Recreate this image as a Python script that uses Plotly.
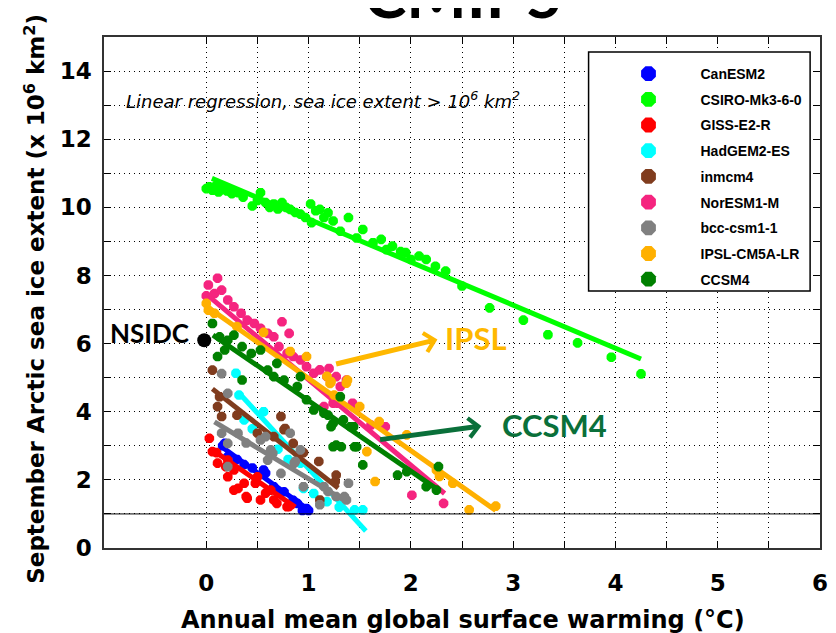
import plotly.graph_objects as go

# ---------------- data ----------------
models = ["CanESM2", "CSIRO-Mk3-6-0", "GISS-E2-R", "HadGEM2-ES", "inmcm4",
          "NorESM1-M", "bcc-csm1-1", "IPSL-CM5A-LR", "CCSM4"]
colors = ["#0000FF", "#00FF00", "#FF0000", "#00FFFF", "#803C1E",
          "#F5247F", "#808080", "#FFB000", "#008000"]

canesm2_x = [0.16, 0.18, 0.21, 0.3, 0.37, 0.45, 0.56, 0.58, 0.66, 0.71, 0.76, 0.85, 0.89, 0.94, 0.98, 1.0]
canesm2_y = [3.0, 3.07, 2.68, 2.6, 2.45, 2.35, 2.29, 2.2, 1.8, 1.61, 1.65, 1.4, 1.31, 1.1, 1.16, 1.1]

csiro_x = [0.0, 0.03, 0.06, 0.09, 0.12, 0.15, 0.2, 0.25, 0.31, 0.36, 0.45, 0.5, 0.53, 0.58,
           0.62, 0.66, 0.7, 0.74, 0.78, 0.82, 0.87, 0.92, 0.97, 1.02, 1.03, 1.07, 1.11, 1.15,
           1.19, 1.24, 1.31, 1.39, 1.47, 1.53, 1.63, 1.71, 1.76, 1.82, 1.9, 1.95, 2.0, 2.08,
           2.15, 2.24, 2.34, 2.5, 2.77, 3.1, 3.34, 3.63, 3.96, 4.25]
csiro_y = [10.55, 10.6, 10.5, 10.62, 10.45, 10.55, 10.48, 10.4, 10.43, 10.3, 10.04, 10.2, 10.43, 10.14,
           10.0, 10.1, 9.95, 10.14, 10.0, 9.94, 9.85, 9.8, 9.7, 10.1, 9.55, 9.9, 9.94, 9.7,
           9.84, 9.6, 9.3, 9.7, 9.1, 9.35, 8.96, 9.06, 8.76, 8.86, 8.7, 8.67, 8.47, 8.57,
           8.47, 8.27, 8.13, 7.69, 7.05, 6.69, 6.26, 6.02, 5.6, 5.11]

giss_x = [0.03, 0.06, 0.1, 0.11, 0.19, 0.21, 0.21, 0.27, 0.27, 0.31, 0.37, 0.39, 0.4, 0.48,
          0.5, 0.53, 0.58, 0.63, 0.66, 0.69, 0.79, 0.81]
giss_y = [3.22, 2.83, 2.8, 2.49, 2.39, 2.58, 2.09, 2.29, 1.7, 1.75, 1.9, 1.51, 1.46, 1.9,
          2.09, 1.41, 1.61, 1.7, 1.41, 1.31, 1.21, 1.22]

hadgem_x = [0.29, 0.32, 0.37, 0.45, 0.56, 0.7, 0.8, 0.92, 0.95, 1.05, 1.18, 1.3, 1.45, 1.53]
hadgem_y = [5.13, 4.49, 3.76, 3.5, 4.0, 2.9, 2.6, 2.49, 1.75, 1.6, 1.36, 1.2, 1.12, 1.12]

inmcm4_x = [0.06, 0.11, 0.13, 0.15, 0.3, 0.5, 0.66, 0.73, 0.76, 0.77, 0.85, 0.95, 1.1, 1.11, 1.26, 1.27]
inmcm4_y = [5.22, 4.15, 4.44, 3.86, 3.9, 3.37, 3.27, 3.86, 3.47, 3.51, 3.07, 2.8, 2.54, 1.41, 1.95, 2.14]

noresm_x = [0.0, 0.02, 0.08, 0.11, 0.15, 0.21, 0.27, 0.34, 0.4, 0.47, 0.53, 0.6, 0.66, 0.71,
            0.74, 0.79, 0.81, 0.85, 0.92, 0.98, 1.05, 1.11, 1.15, 1.18, 1.2, 1.24, 1.27,
            1.28, 1.31, 1.37, 1.43, 1.44, 1.61, 1.75, 2.01, 2.32]
noresm_y = [7.4, 7.72, 7.47, 7.92, 7.57, 7.28, 7.08, 6.89, 6.69, 6.59, 6.45, 6.3, 6.2, 5.91,
            6.64, 5.71, 6.3, 5.62, 5.52, 5.32, 5.13, 5.23, 4.15, 5.03, 5.27, 4.25, 5.03,
            4.25, 4.74, 4.93, 4.25, 4.15, 3.61, 3.56, 1.55, 1.31]

bcc_x = [0.15, 0.15, 0.21, 0.21, 0.21, 0.31, 0.39, 0.53, 0.58, 0.6, 0.63, 0.65, 0.73, 0.82,
         0.86, 0.87, 0.92, 0.95, 1.11, 1.15, 1.19, 1.27, 1.35, 1.37, 1.39]
bcc_y = [5.12, 3.37, 4.54, 3.07, 2.39, 3.37, 3.08, 3.17, 3.27, 2.58, 2.88, 2.78, 2.19, 3.37,
         2.49, 2.54, 2.88, 1.8, 1.27, 1.8, 1.66, 1.51, 1.51, 1.41, 1.9]

ipsl_x = [0.0, 0.02, 0.08, 0.3, 0.56, 0.82, 0.98, 1.18, 1.21, 1.22, 1.25, 1.37, 1.38, 1.5,
          1.57, 1.65, 1.69, 1.96, 2.25, 2.28, 2.41, 2.57, 2.83]
ipsl_y = [7.18, 6.98, 6.89, 6.5, 6.33, 5.77, 5.62, 5.04, 4.83, 4.88, 4.49, 4.84, 4.93, 4.15,
          2.83, 1.95, 3.71, 3.32, 2.29, 2.1, 1.9, 1.12, 1.23]

ccsm4_x = [0.06, 0.11, 0.13, 0.18, 0.21, 0.27, 0.35, 0.35, 0.44, 0.53, 0.6, 0.66, 0.69, 0.76,
           0.89, 0.92, 0.98, 1.05, 1.15, 1.19, 1.22, 1.24, 1.24, 1.27, 1.31, 1.32, 1.34, 1.41,
           1.44, 1.45, 1.47, 1.53, 1.87, 1.96, 2.15, 2.25, 2.27]
ccsm4_y = [6.59, 5.62, 6.2, 5.81, 6.1, 6.25, 5.91, 4.93, 5.71, 5.81, 5.22, 5.03, 5.42, 4.93,
           4.74, 5.03, 4.35, 4.05, 3.96, 3.9, 3.56, 3.66, 2.97, 3.02, 4.44, 2.97, 3.76, 3.56,
           3.56, 2.97, 2.97, 2.44, 2.14, 2.24, 1.8, 1.7, 2.39]

points_x = [canesm2_x, csiro_x, giss_x, hadgem_x, inmcm4_x, noresm_x, bcc_x, ipsl_x, ccsm4_x]
points_y = [canesm2_y, csiro_y, giss_y, hadgem_y, inmcm4_y, noresm_y, bcc_y, ipsl_y, ccsm4_y]

# regression line end points
fit_x = [[0.16, 1.0], [0.055, 4.25], [0.06, 0.87], [0.32, 1.56], [0.06, 1.29],
         [0.02, 2.33], [0.08, 1.35], [0.0, 2.83], [0.065, 2.27]]
fit_y = [[2.95, 1.12], [10.85, 5.55], [2.88, 1.2], [4.55, 0.5], [4.67, 1.76],
         [7.4, 1.6], [3.7, 1.4], [7.1, 1.1], [6.25, 1.7]]

nsidc_x = [-0.02]
nsidc_y = [6.1]

x_tickvals = [0, 0.5, 1, 1.5, 2, 2.5, 3, 3.5, 4, 4.5, 5, 5.5, 6]
x_ticktext = ["0", "", "1", "", "2", "", "3", "", "4", "", "5", "", "6"]
y_tickvals = list(range(0, 15))
y_ticktext = [str(v) if v % 2 == 0 else "" for v in y_tickvals]

# ---------------- figure ----------------
fig = go.Figure()

for name, col, px_, py_, fx, fy in zip(models, colors, points_x, points_y, fit_x, fit_y):
    fig.add_trace(go.Scatter(
        x=px_, y=py_, mode="markers", showlegend=False, hoverinfo="skip",
        marker=dict(symbol="asterisk-open", size=8, color=col,
                    line=dict(color=col, width=3.5))))
    fig.add_trace(go.Scatter(
        x=fx, y=fy, mode="lines", showlegend=False, hoverinfo="skip",
        line=dict(color=col, width=5)))

# legend entries
for name, col in zip(models, colors):
    fig.add_trace(go.Scatter(
        x=[None], y=[None], mode="markers", name=name, legendgroup=name,
        marker=dict(symbol="octagon", size=16, color=col)))

fig.add_trace(go.Scatter(x=nsidc_x, y=nsidc_y, mode="markers", showlegend=False,
                         marker=dict(symbol="circle", size=14, color="black")))

# the page places the figure 8 px from the window's top-left corner
OFF = 8
W, H = 836 - OFF, 633 - OFF
L, R, T, B = 104 - OFF, 8, 37 - OFF, 85
pw, ph = W - L - R, H - T - B


def pxx(p):
    """window pixel x -> paper coordinate"""
    return (p - OFF - L) / pw


def pxy(p):
    """window pixel y -> paper coordinate"""
    return (H - B - (p - OFF)) / ph


axis_font = dict(family="DejaVu Sans", size=23, color="black", weight="bold")
grid_dash = "1px,4px"

fig.update_layout(
    width=W, height=H,
    margin=dict(l=L, r=R, t=T, b=B, pad=0),
    plot_bgcolor="white", paper_bgcolor="white",
    xaxis=dict(range=[-1, 6], tickmode="array", tickvals=x_tickvals, ticktext=x_ticktext,
               ticks="inside", ticklen=7, tickwidth=1, tickcolor="black",
               showline=True, linecolor="#333333", linewidth=1.5, mirror="ticks",
               showgrid=True, gridcolor="black", gridwidth=1, griddash=grid_dash,
               zeroline=False, tickfont=axis_font, ticklabelstandoff=14),
    yaxis=dict(range=[0, 15], tickmode="array", tickvals=y_tickvals, ticktext=y_ticktext,
               ticks="inside", ticklen=7, tickwidth=1, tickcolor="black",
               showline=True, linecolor="#333333", linewidth=1.5, mirror="ticks",
               showgrid=True, gridcolor="black", gridwidth=1, griddash=grid_dash,
               zeroline=False, tickfont=axis_font, ticklabelstandoff=6),
    legend=dict(x=pxx(602), y=pxy(58), xanchor="left", yanchor="top",
                bgcolor="rgba(0,0,0,0)", borderwidth=0, itemwidth=94,
                tracegroupgap=4.5, itemclick=False, itemdoubleclick=False,
                font=dict(family="Arial", size=14, color="black", weight="bold")),
    showlegend=True,
)

# y = 1 reference line
fig.add_shape(type="line", xref="x", yref="y", x0=-1, x1=6, y0=1, y1=1,
              line=dict(color="black", width=1), layer="above")
# legend box
fig.add_shape(type="rect", xref="paper", yref="paper",
              x0=pxx(594), x1=pxx(818), y0=pxy(291), y1=pxy(52),
              line=dict(color="black", width=1.5), fillcolor="white", layer="above")

ann = []
ann.append(dict(text="CMIP5", xref="paper", yref="paper", x=pxx(468), y=pxy(-7),
                xanchor="center", yanchor="middle", showarrow=False,
                font=dict(family="Lato", size=64, color="black", weight="bold")))
ann.append(dict(text="Annual mean global surface warming (°C)", xref="paper", yref="paper",
                x=pxx(467), y=pxy(620), xanchor="center", yanchor="middle", showarrow=False,
                font=dict(family="DejaVu Sans", size=24, color="black", weight="bold")))
ann.append(dict(text="September Arctic sea ice extent (x 10<sup>6</sup> km<sup>2</sup>)",
                xref="paper", yref="paper", x=pxx(34), y=pxy(299), textangle=-90,
                xanchor="center", yanchor="middle", showarrow=False,
                font=dict(family="DejaVu Sans", size=23, color="black", weight="bold")))
ann.append(dict(text="<i>Linear regression, sea ice extent > 10<sup>6</sup> km<sup>2</sup></i>",
                xref="x", yref="y", x=-0.8, y=13.15, xanchor="left", yanchor="middle",
                showarrow=False,
                font=dict(family="DejaVu Sans", size=18, color="black")))
ann.append(dict(text="NSIDC", xref="x", yref="y", x=-0.145, y=6.31, xanchor="right",
                yanchor="middle", showarrow=False,
                font=dict(family="Lato", size=26, color="black", weight="bold")))
ann.append(dict(text="IPSL", xref="x", yref="y", x=2.31, y=6.16, xanchor="left",
                yanchor="middle", showarrow=False,
                font=dict(family="Lato", size=31, color="#FFB800", weight="bold")))
ann.append(dict(text="CCSM4", xref="x", yref="y", x=2.87, y=3.6, xanchor="left",
                yanchor="middle", showarrow=False,
                font=dict(family="Lato", size=31, color="#0A703A", weight="bold")))
ann.append(dict(text=" ", xref="x", yref="y", x=2.26, y=6.12, axref="x", ayref="y",
                ax=1.24, ay=5.38, showarrow=True, arrowhead=4, arrowsize=0.75,
                arrowwidth=5, arrowcolor="#FFB800"))
ann.append(dict(text=" ", xref="x", yref="y", x=2.69, y=3.58, axref="x", ayref="y",
                ax=1.67, ay=3.17, showarrow=True, arrowhead=4, arrowsize=0.75,
                arrowwidth=5, arrowcolor="#0A703A"))
fig.update_layout(annotations=ann)

fig.write_html("out.html")
